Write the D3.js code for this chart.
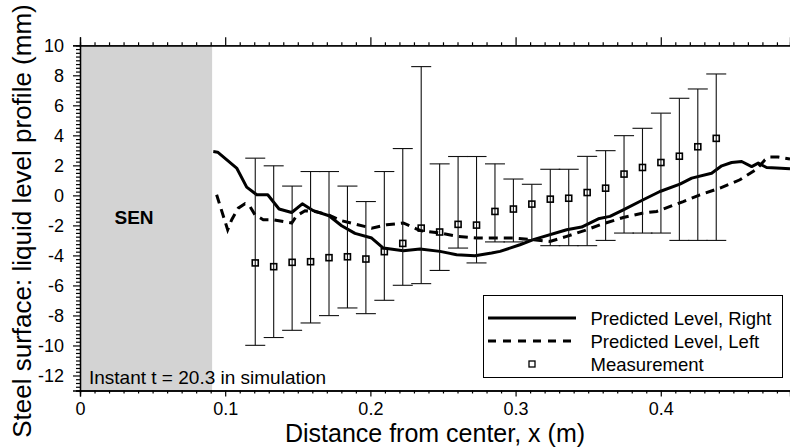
<!DOCTYPE html>
<html>
<head>
<meta charset="utf-8">
<script src="https://cdn.jsdelivr.net/npm/d3@7"></script>
<style>
  html, body { margin: 0; padding: 0; background: #fff; }
  svg { display: block; }
  text { font-family: "Liberation Sans", Arial, sans-serif; fill: #000; }
</style>
</head>
<body>
<svg id="chart" width="790" height="447"></svg>
<script>
// ---------------- data ----------------
const xTickValues = [0, 0.1, 0.2, 0.3, 0.4];
const xTickLabels = ["0", "0.1", "0.2", "0.3", "0.4"];
const yTickValues = [-12, -10, -8, -6, -4, -2, 0, 2, 4, 6, 8, 10];
const yTickLabels = ["-12", "-10", "-8", "-6", "-4", "-2", "0", "2", "4", "6", "8", "10"];

// Predicted level, right (solid)
const rightX = [0.0918, 0.0948, 0.1079, 0.1148, 0.1217, 0.1293, 0.1371, 0.1458, 0.1531, 0.1607,
  0.1715, 0.1802, 0.1894, 0.2009, 0.2089, 0.2227, 0.2342, 0.2479, 0.2594, 0.2720,
  0.2835, 0.2893, 0.3030, 0.3122, 0.3352, 0.3455, 0.3570, 0.3650, 0.3742, 0.3879,
  0.3994, 0.4132, 0.4213, 0.4350, 0.4420, 0.4488, 0.4557, 0.4626, 0.4671, 0.4729,
  0.4798, 0.4890];
const rightY = [2.92, 2.88, 1.82, 0.55, 0.04, 0.04, -0.91, -1.14, -0.56, -1.02,
  -1.36, -2.02, -2.53, -2.84, -3.51, -3.69, -3.57, -3.73, -3.95, -4.02,
  -3.84, -3.73, -3.29, -2.95, -2.29, -2.11, -1.56, -1.40, -0.96, -0.29,
  0.26, 0.75, 1.15, 1.48, 1.97, 2.19, 2.26, 1.92, 2.15, 1.86,
  1.82, 1.77];

// Predicted level, left (dashed)
const leftX = [0.0941, 0.1017, 0.1045, 0.1090, 0.1136, 0.1171, 0.1205, 0.1262, 0.1331, 0.1458,
  0.1492, 0.1550, 0.1618, 0.1710, 0.1802, 0.1894, 0.2009, 0.2112, 0.2227, 0.2319,
  0.2353, 0.2479, 0.2605, 0.2732, 0.2984, 0.3122, 0.3237, 0.3352, 0.3490, 0.3581,
  0.3742, 0.3879, 0.3972, 0.4155, 0.4270, 0.4408, 0.4545, 0.4660, 0.4718, 0.4752,
  0.4809, 0.4890];
const leftY = [0.04, -2.29, -1.62, -0.85, -0.56, -0.74, -1.29, -1.62, -1.62, -1.84,
  -1.36, -1.02, -1.07, -1.29, -1.69, -1.91, -2.18, -1.96, -1.84, -2.24,
  -2.36, -2.51, -2.73, -2.84, -2.84, -2.95, -3.07, -2.73, -2.29, -1.96,
  -1.47, -1.18, -1.07, -0.41, 0.04, 0.49, 1.04, 1.75, 2.37, 2.55,
  2.55, 2.42];

// Measurements with error bars
const measX = [0.1207, 0.1334, 0.1461, 0.1588, 0.1715, 0.1842, 0.1969, 0.2096, 0.2223, 0.2350,
  0.2477, 0.2604, 0.2731, 0.2858, 0.2985, 0.3112, 0.3239, 0.3366, 0.3493, 0.3620,
  0.3747, 0.3874, 0.4001, 0.4128, 0.4255, 0.4382];
const measY = [-4.50, -4.75, -4.46, -4.42, -4.15, -4.09, -4.24, -3.75, -3.20, -2.18,
  -2.44, -1.93, -1.98, -1.07, -0.91, -0.58, -0.25, -0.19, 0.19, 0.48,
  1.42, 1.86, 2.19, 2.61, 3.24, 3.80];
const measHigh = [2.48, 1.97, 0.62, 1.59, 1.59, 0.62, -0.41, 1.59, 3.12, 8.58,
  2.10, 2.59, 2.59, 2.10, 1.09, 0.74, 1.74, 1.74, 2.60, 2.98,
  3.98, 4.47, 5.48, 6.47, 7.09, 8.09];
const measLow = [-9.99, -9.47, -8.99, -8.50, -8.01, -7.50, -7.88, -6.99, -5.99, -5.88,
  -5.00, -3.51, -4.50, -3.10, -3.10, -2.95, -3.35, -3.35, -3.35, -3.00,
  -2.51, -2.51, -2.51, -3.00, -3.00, -3.00];

const senEdge = 0.091;
const legendLabels = ["Predicted Level, Right", "Predicted Level, Left", "Measurement"];

// ---------------- layout ----------------
const svg = d3.select("#chart");
const x = d3.scaleLinear().domain([0, 0.489]).range([80, 790]);
const y = d3.scaleLinear().domain([-13, 10]).range([390.5, 45.3]);

// SEN grey block
svg.append("rect")
  .attr("x", x(0)).attr("y", y(10))
  .attr("width", x(senEdge) - x(0)).attr("height", y(-13) - y(10))
  .attr("fill", "#d3d3d3");

svg.append("text").attr("x", 134).attr("y", 224)
  .attr("text-anchor", "middle").attr("font-weight", "bold")
  .attr("font-size", 19).text("SEN");

svg.append("text").attr("x", 89).attr("y", 383.5)
  .attr("font-size", 19).text("Instant t = 20.3 in simulation");

// axes
const fmt = d => xTickLabels[xTickValues.indexOf(d)];
const minorX = d3.range(0, 0.4891, 0.01).filter(v => Math.abs(v * 10 - Math.round(v * 10)) > 1e-6);
const minorY = d3.range(-13, 10.001, 0.25).filter(v => Math.abs(v / 2 - Math.round(v / 2)) > 1e-6);

function styleAxis(g) {
  g.select(".domain").attr("stroke", "#000").attr("stroke-width", 1.3);
  g.selectAll(".tick line").attr("stroke", "#000").attr("stroke-width", 1.2);
  g.selectAll(".tick text").attr("font-size", 18).attr("font-family", "Liberation Sans, Arial, sans-serif");
}

// bottom
const gB = svg.append("g").attr("transform", `translate(0,${y(-13)})`);
gB.call(d3.axisBottom(x).tickValues(xTickValues).tickFormat(fmt).tickSize(6).tickPadding(6));
styleAxis(gB);
const gBm = svg.append("g").attr("transform", `translate(0,${y(-13)})`);
gBm.call(d3.axisBottom(x).tickValues(minorX).tickFormat("").tickSize(3));
styleAxis(gBm);

// top
const gT = svg.append("g").attr("transform", `translate(0,${y(10)})`);
gT.call(d3.axisTop(x).tickValues(xTickValues).tickFormat("").tickSize(8));
styleAxis(gT);
const gTm = svg.append("g").attr("transform", `translate(0,${y(10)})`);
gTm.call(d3.axisTop(x).tickValues(minorX).tickFormat("").tickSize(3));
styleAxis(gTm);

// left
const gL = svg.append("g").attr("transform", `translate(${x(0)},0)`);
gL.call(d3.axisLeft(y).tickValues(yTickValues)
  .tickFormat(d => yTickLabels[yTickValues.indexOf(d)]).tickSize(7).tickPadding(9));
styleAxis(gL);
const gLm = svg.append("g").attr("transform", `translate(${x(0)},0)`);
gLm.call(d3.axisLeft(y).tickValues(minorY).tickFormat("").tickSize(4));
styleAxis(gLm);

// axis titles
svg.append("text").attr("x", 435).attr("y", 442)
  .attr("text-anchor", "middle").attr("font-size", 25)
  .text("Distance from center, x (m)");
svg.append("text")
  .attr("transform", "translate(31,221) rotate(-90)")
  .attr("text-anchor", "middle").attr("font-size", 26)
  .text("Steel surface: liquid level profile (mm)");

// lines
const line = d3.line().x(d => x(d[0])).y(d => y(d[1]));
const rightData = rightX.map((v, i) => [v, rightY[i]]);
const leftData = leftX.map((v, i) => [v, leftY[i]]);

svg.append("path").datum(leftData).attr("d", line)
  .attr("fill", "none").attr("stroke", "#000").attr("stroke-width", 3)
  .attr("stroke-dasharray", "9,6");
svg.append("path").datum(rightData).attr("d", line)
  .attr("fill", "none").attr("stroke", "#000").attr("stroke-width", 3)
  .attr("stroke-linejoin", "round");

// error bars + markers
const meas = measX.map((v, i) => ({ x: v, y: measY[i], hi: measHigh[i], lo: measLow[i] }));
const eb = svg.append("g").attr("stroke", "#111").attr("stroke-width", 1.1);
eb.selectAll("line.v").data(meas).join("line").attr("class", "v")
  .attr("x1", d => x(d.x)).attr("x2", d => x(d.x))
  .attr("y1", d => y(d.hi)).attr("y2", d => y(d.lo));
eb.selectAll("line.h").data(meas).join("line").attr("class", "h")
  .attr("x1", d => x(d.x) - 10).attr("x2", d => x(d.x) + 10)
  .attr("y1", d => y(d.hi)).attr("y2", d => y(d.hi));
eb.selectAll("line.l").data(meas).join("line").attr("class", "l")
  .attr("x1", d => x(d.x) - 10).attr("x2", d => x(d.x) + 10)
  .attr("y1", d => y(d.lo)).attr("y2", d => y(d.lo));
svg.append("g").selectAll("rect").data(meas).join("rect")
  .attr("x", d => x(d.x) - 3).attr("y", d => y(d.y) - 3)
  .attr("width", 6).attr("height", 6)
  .attr("fill", "none").attr("stroke", "#000").attr("stroke-width", 1.6);

// legend
const lg = svg.append("g");
lg.append("rect").attr("x", 483.5).attr("y", 295.5).attr("width", 299).attr("height", 82)
  .attr("fill", "#fff").attr("stroke", "#000").attr("stroke-width", 1);
const rowsY = [318, 341, 364];
lg.append("line").attr("x1", 488).attr("x2", 576).attr("y1", rowsY[0]).attr("y2", rowsY[0])
  .attr("stroke", "#000").attr("stroke-width", 3);
lg.append("line").attr("x1", 488).attr("x2", 576).attr("y1", rowsY[1]).attr("y2", rowsY[1])
  .attr("stroke", "#000").attr("stroke-width", 3).attr("stroke-dasharray", "8,7");
lg.append("rect").attr("x", 529).attr("y", rowsY[2] - 3).attr("width", 6).attr("height", 6)
  .attr("fill", "none").attr("stroke", "#000").attr("stroke-width", 1.3);
legendLabels.forEach((t, i) => {
  lg.append("text").attr("x", 590.5).attr("y", rowsY[i] + 6.5)
    .attr("font-size", 18.5).text(t);
});
</script>
</body>
</html>
